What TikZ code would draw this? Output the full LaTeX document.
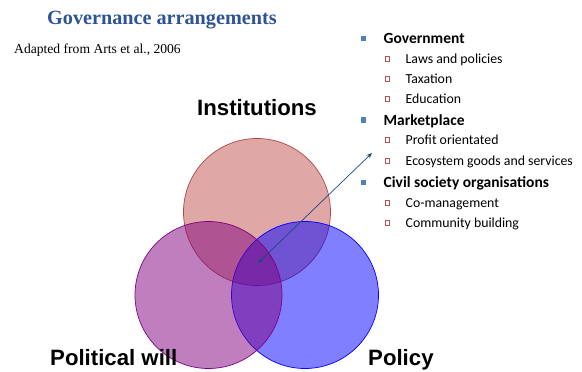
\documentclass[tikz,border=0pt]{standalone}
\usepackage{fontspec}
\usetikzlibrary{arrows.meta}
\setmainfont{Liberation Serif}
\newfontfamily\arialf{Liberation Sans}
\newfontfamily\calib{Carlito}
\definecolor{titleblue}{RGB}{47,84,150}
\definecolor{bulletblue}{RGB}{79,129,189}
\definecolor{subred}{RGB}{192,80,77}
\definecolor{arrowblue}{RGB}{31,73,125}
\definecolor{topfill}{RGB}{192,80,77}
\definecolor{leftfill}{RGB}{128,0,128}
\definecolor{rightfill}{RGB}{0,0,255}
\tikzset{
  venn/.style={circle, minimum size=147pt, inner sep=0pt, fill opacity=0.5, draw opacity=1, line width=0.7pt},
  biglabel/.style={font=\arialf\bfseries\fontsize{22.2}{26}\selectfont, anchor=base, inner sep=0pt},
  mainitem/.style={font=\calib\bfseries\fontsize{15.5}{18}\selectfont, anchor=base west, inner sep=0pt},
  subitem/.style={font=\calib\fontsize{13.8}{16}\selectfont, anchor=base west, inner sep=0pt},
  mainbullet/.style={rectangle, fill=bulletblue, minimum size=5.5pt, inner sep=0pt},
  subbullet/.style={rectangle, draw=subred, fill=white, line width=0.6pt, minimum size=4.5pt, inner sep=0pt},
}
\begin{document}
\begin{tikzpicture}[x=1pt,y=-1pt]
\useasboundingbox (0,0) rectangle (582,372);
% title
\node[font=\bfseries\fontsize{20.2}{24}\selectfont, text=titleblue, anchor=base west, inner sep=0pt] (title) at (47,24) {Governance arrangements};
\node[font=\fontsize{13.6}{16}\selectfont, anchor=base west, inner sep=0pt] (src) at (14,53) {Adapted from Arts et al., 2006};
% circles (order: red, blue, purple)
\node[venn, fill=topfill, draw=topfill!90!black] (inst) at (257,212) {};
\node[venn, fill=rightfill, draw=rightfill] (policy) at (305,295) {};
\node[venn, fill=leftfill, draw=leftfill] (pol) at (208.5,295) {};
% labels
\node[biglabel] (instl) at (257,115) {Institutions};
\node[biglabel, anchor=base west] (poll) at (50,365) {Political will};
\node[biglabel, anchor=base west] (policyl) at (368,365) {Policy};
% arrow
\coordinate (a1) at (258,263);
\coordinate (a2) at (372,153);
\draw[arrowblue, line width=0.7pt, {Stealth[length=5.5pt,width=4.5pt]}-{Stealth[length=5.5pt,width=4.5pt]}] (a1) -- (a2);
% bullets
\node[mainbullet] (b1) at (363.5,38.3) {};
\node[mainitem] (t1) at (383.5,43.3) {Government};
\node[subbullet] (s1) at (387.3,59) {};
\node[subitem] (u1) at (405.5,63.5) {Laws and policies};
\node[subbullet] (s2) at (387.3,79) {};
\node[subitem] (u2) at (405.5,83.5) {Taxation};
\node[subbullet] (s3) at (387.3,99) {};
\node[subitem] (u3) at (405.5,103.5) {Education};
\node[mainbullet] (b2) at (363.5,120) {};
\node[mainitem] (t2) at (383.5,125) {Marketplace};
\node[subbullet] (s4) at (387.3,140) {};
\node[subitem] (u4) at (405.5,144.5) {Profit orientated};
\node[subbullet] (s5) at (387.3,160.7) {};
\node[subitem] (u5) at (405.5,165.2) {Ecosystem goods and services};
\node[mainbullet] (b3) at (363.5,182.3) {};
\node[mainitem] (t3) at (383.5,187.3) {Civil society organisations};
\node[subbullet] (s6) at (387.3,202.7) {};
\node[subitem] (u6) at (405.5,207.2) {Co-management};
\node[subbullet] (s7) at (387.3,222.7) {};
\node[subitem] (u7) at (405.5,227.2) {Community building};
\end{tikzpicture}
\end{document}
